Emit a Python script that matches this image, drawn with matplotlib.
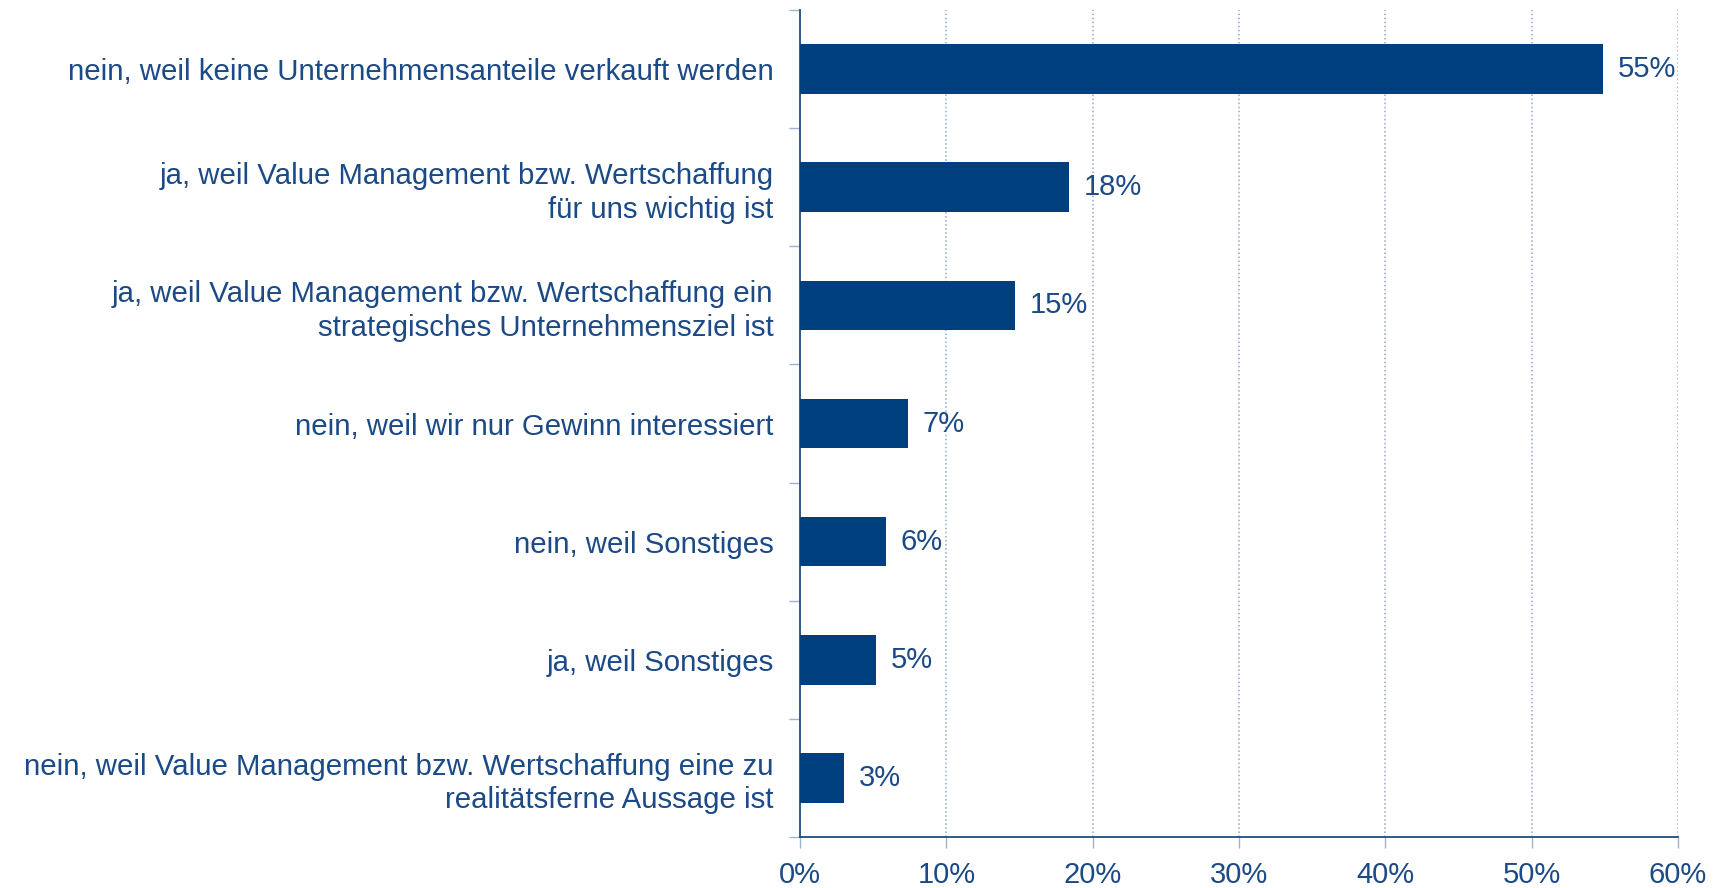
import matplotlib.pyplot as plt
from matplotlib.ticker import FuncFormatter

plt.rcParams['font.family'] = ['Liberation Sans', 'DejaVu Sans']

# ---- Data ----
categories = [
    'nein, weil keine Unternehmensanteile verkauft werden',
    'ja, weil Value Management bzw. Wertschaffung\nfür uns wichtig ist',
    'ja, weil Value Management bzw. Wertschaffung ein\nstrategisches Unternehmensziel ist',
    'nein, weil wir nur Gewinn interessiert',
    'nein, weil Sonstiges',
    'ja, weil Sonstiges',
    'nein, weil Value Management bzw. Wertschaffung eine zu\nrealitätsferne Aussage ist',
]
shares = [54.9, 18.4, 14.7, 7.4, 5.9, 5.2, 3.0]
x_ticks = [0, 10, 20, 30, 40, 50, 60]

bar_color = '#003f7d'
text_color = '#1b4a86'
axis_color = '#1f4e7f'
grid_color = '#8ea8c8'

fig = plt.figure(figsize=(17.26, 8.88), dpi=100)
ax = fig.add_axes([0.4635, 0.0574, 0.5087, 0.9313])

positions = list(range(len(categories)))
ax.barh(positions, shares, height=0.42, color=bar_color, zorder=3)

for pos, val in zip(positions, shares):
    ax.text(val + 1.0, pos, f'{val:.0f}%', va='center', ha='left',
            fontsize=21, color=text_color)

ax.set_xlim(0, 60)
ax.set_ylim(len(categories) - 0.5, -0.5)

ax.set_xticks(x_ticks)
ax.xaxis.set_major_formatter(FuncFormatter(lambda v, _: f'{v:.0f}%'))
ax.tick_params(axis='x', length=8, width=1, color='#9fb3cc', labelsize=21,
               labelcolor=text_color, pad=9)
ax.grid(axis='x', color=grid_color, linestyle=':', linewidth=1.1, zorder=0)

ax.set_yticks(positions)
ax.set_yticklabels(categories, fontsize=21.2, color=text_color, linespacing=1.24)
ax.tick_params(axis='y', which='major', length=0, pad=19)
ax.set_yticks([p - 0.5 for p in positions] + [len(categories) - 0.5], minor=True)
ax.tick_params(axis='y', which='minor', length=8, width=1, color='#9fb3cc')

for side in ['top', 'right']:
    ax.spines[side].set_visible(False)
for side in ['left', 'bottom']:
    ax.spines[side].set_color(axis_color)
    ax.spines[side].set_linewidth(1.3)

plt.savefig('out.png', dpi=100)
